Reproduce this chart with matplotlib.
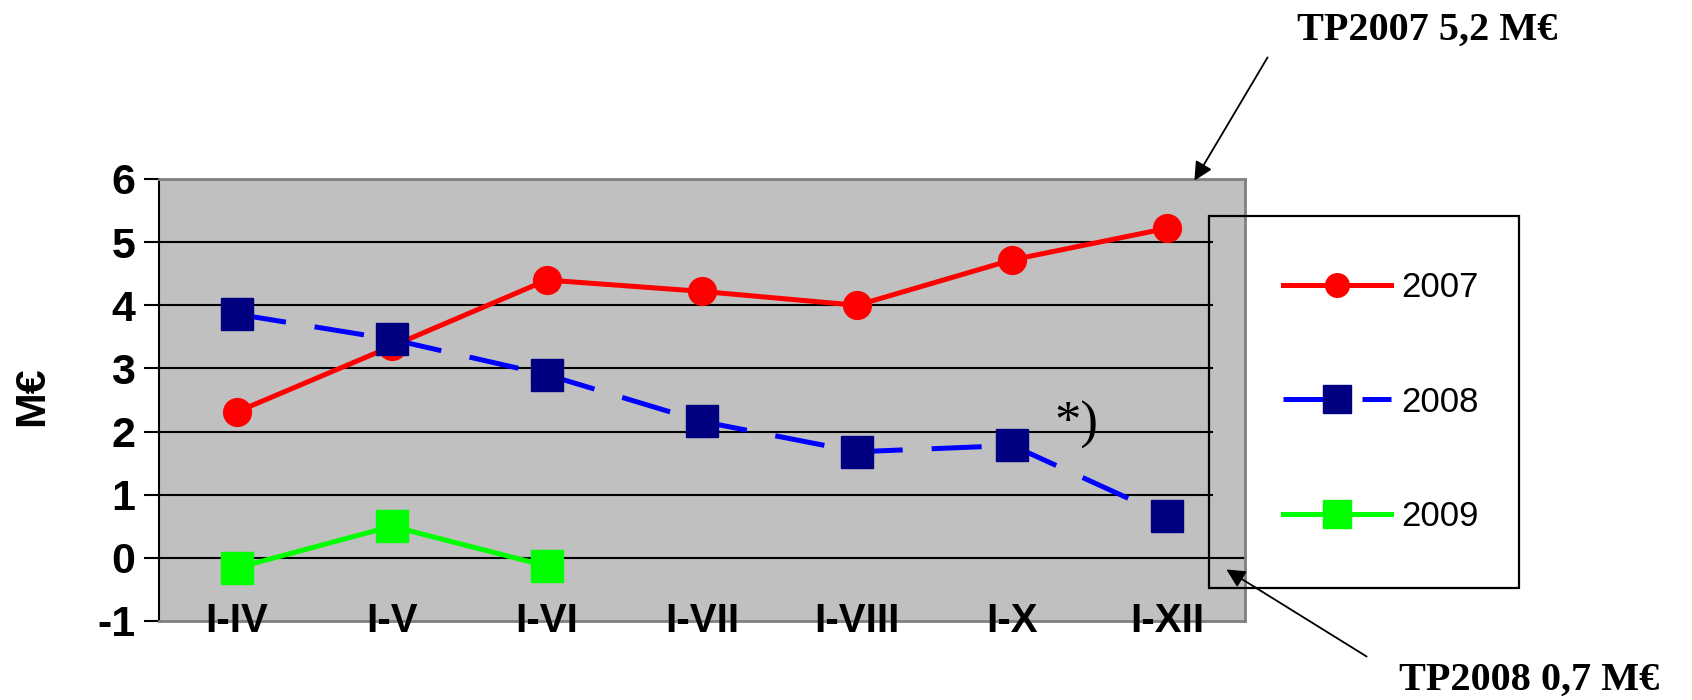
import matplotlib
matplotlib.use("Agg")
import matplotlib.pyplot as plt
from matplotlib.patches import Rectangle

# data
periods = ["I-IV", "I-V", "I-VI", "I-VII", "I-VIII", "I-X", "I-XII"]
y2007 = [2.31, 3.35, 4.4, 4.22, 4.0, 4.72, 5.22]
y2008 = [3.86, 3.46, 2.9, 2.16, 1.68, 1.78, 0.66]
y2009 = [-0.16, 0.5, -0.13]
yticks = [-1, 0, 1, 2, 3, 4, 5, 6]

W, H = 1692, 700
fig = plt.figure(figsize=(W / 100, H / 100), dpi=100)
ax = fig.add_axes([159 / W, 1 - 621 / H, (1245 - 159) / W, (621 - 179) / H])
ax.set_facecolor("#C0C0C0")

x = list(range(len(periods)))

# gridlines (the ones under the legend box stop at its left edge)
for v in yticks[1:-1]:
    if v == 0:
        ax.axhline(v, color="black", lw=1.5, zorder=1)
    else:
        ax.axhline(v, xmax=(1212 - 159) / (1245 - 159), color="black", lw=1.5, zorder=1)

l1, = ax.plot(x, y2007, color="#FF0000", lw=3.6, marker="o", ms=20,
              mfc="#FF0000", mec="#FF0000", label="2007", zorder=3)
l2, = ax.plot(x, y2008, color="#0000FF", lw=3.6, ls=(0, (10, 5.8)), marker="s", ms=23,
              mfc="#000080", mec="#000080", label="2008", zorder=4)
l3, = ax.plot(x[:len(y2009)], y2009, color="#00FF00", lw=3.6, marker="s", ms=23,
              mfc="#00FF00", mec="#00FF00", label="2009", zorder=3)

ax.set_xlim(-0.5, len(periods) - 0.5)
ax.set_ylim(-1, 6)
ax.set_yticks(yticks)
ax.set_yticklabels([str(v) for v in yticks], fontsize=31, fontweight="bold",
                   family="Liberation Sans")
ax.tick_params(axis="y", direction="out", length=11, width=1.5, color="black", pad=6)
ax.set_xticks(x)
ax.set_xticklabels(periods, fontsize=29, fontweight="bold", family="Liberation Sans")
ax.tick_params(axis="x", length=0, pad=-14)
# category labels sit on top of the plot border
ax.xaxis.set_zorder(6)

for s in ["top", "right", "bottom"]:
    ax.spines[s].set_color("#808080")
    ax.spines[s].set_linewidth(2)
ax.spines["left"].set_color("black")
ax.spines["left"].set_linewidth(1.5)

fig.text(32 / W, 1 - 396 / H, "M€", rotation=90, fontsize=31, fontweight="bold",
         family="Liberation Sans", ha="center", va="center")

# legend box
fig.patches.append(Rectangle((1209 / W, 1 - 588 / H), 310 / W, 372 / H,
                             transform=fig.transFigure, fill=False,
                             edgecolor="black", lw=1.6, zorder=5))
leg = fig.legend(handles=[l1, l2, l3], loc="center left",
                 bbox_to_anchor=(1266 / W, 1 - 402 / H), frameon=False,
                 prop={"family": "Liberation Sans", "size": 25},
                 handlelength=3.1, handletextpad=0.3, labelspacing=2.35,
                 markerscale=0.85, borderpad=0)

# annotations
fig.text(1427 / W, 1 - 30 / H, "TP2007 5,2 M€", fontsize=29, fontweight="bold",
         family="Liberation Serif", ha="center", va="center")
fig.text(1529 / W, 1 - 680 / H, "TP2008 0,7 M€", fontsize=29, fontweight="bold",
         family="Liberation Serif", ha="center", va="center")
fig.text(1076 / W, 1 - 425 / H, "*)", fontsize=38,
         family="Liberation Serif", ha="center", va="center")

arrow = dict(arrowstyle="-|>", color="black", lw=1.3, mutation_scale=28)
ax.annotate("", xy=(1193, H - 183), xycoords="figure pixels",
            xytext=(1269, H - 55), textcoords="figure pixels", arrowprops=arrow)
ax.annotate("", xy=(1224, H - 568), xycoords="figure pixels",
            xytext=(1369, H - 658), textcoords="figure pixels", arrowprops=arrow)

fig.savefig("out.png", dpi=100)
